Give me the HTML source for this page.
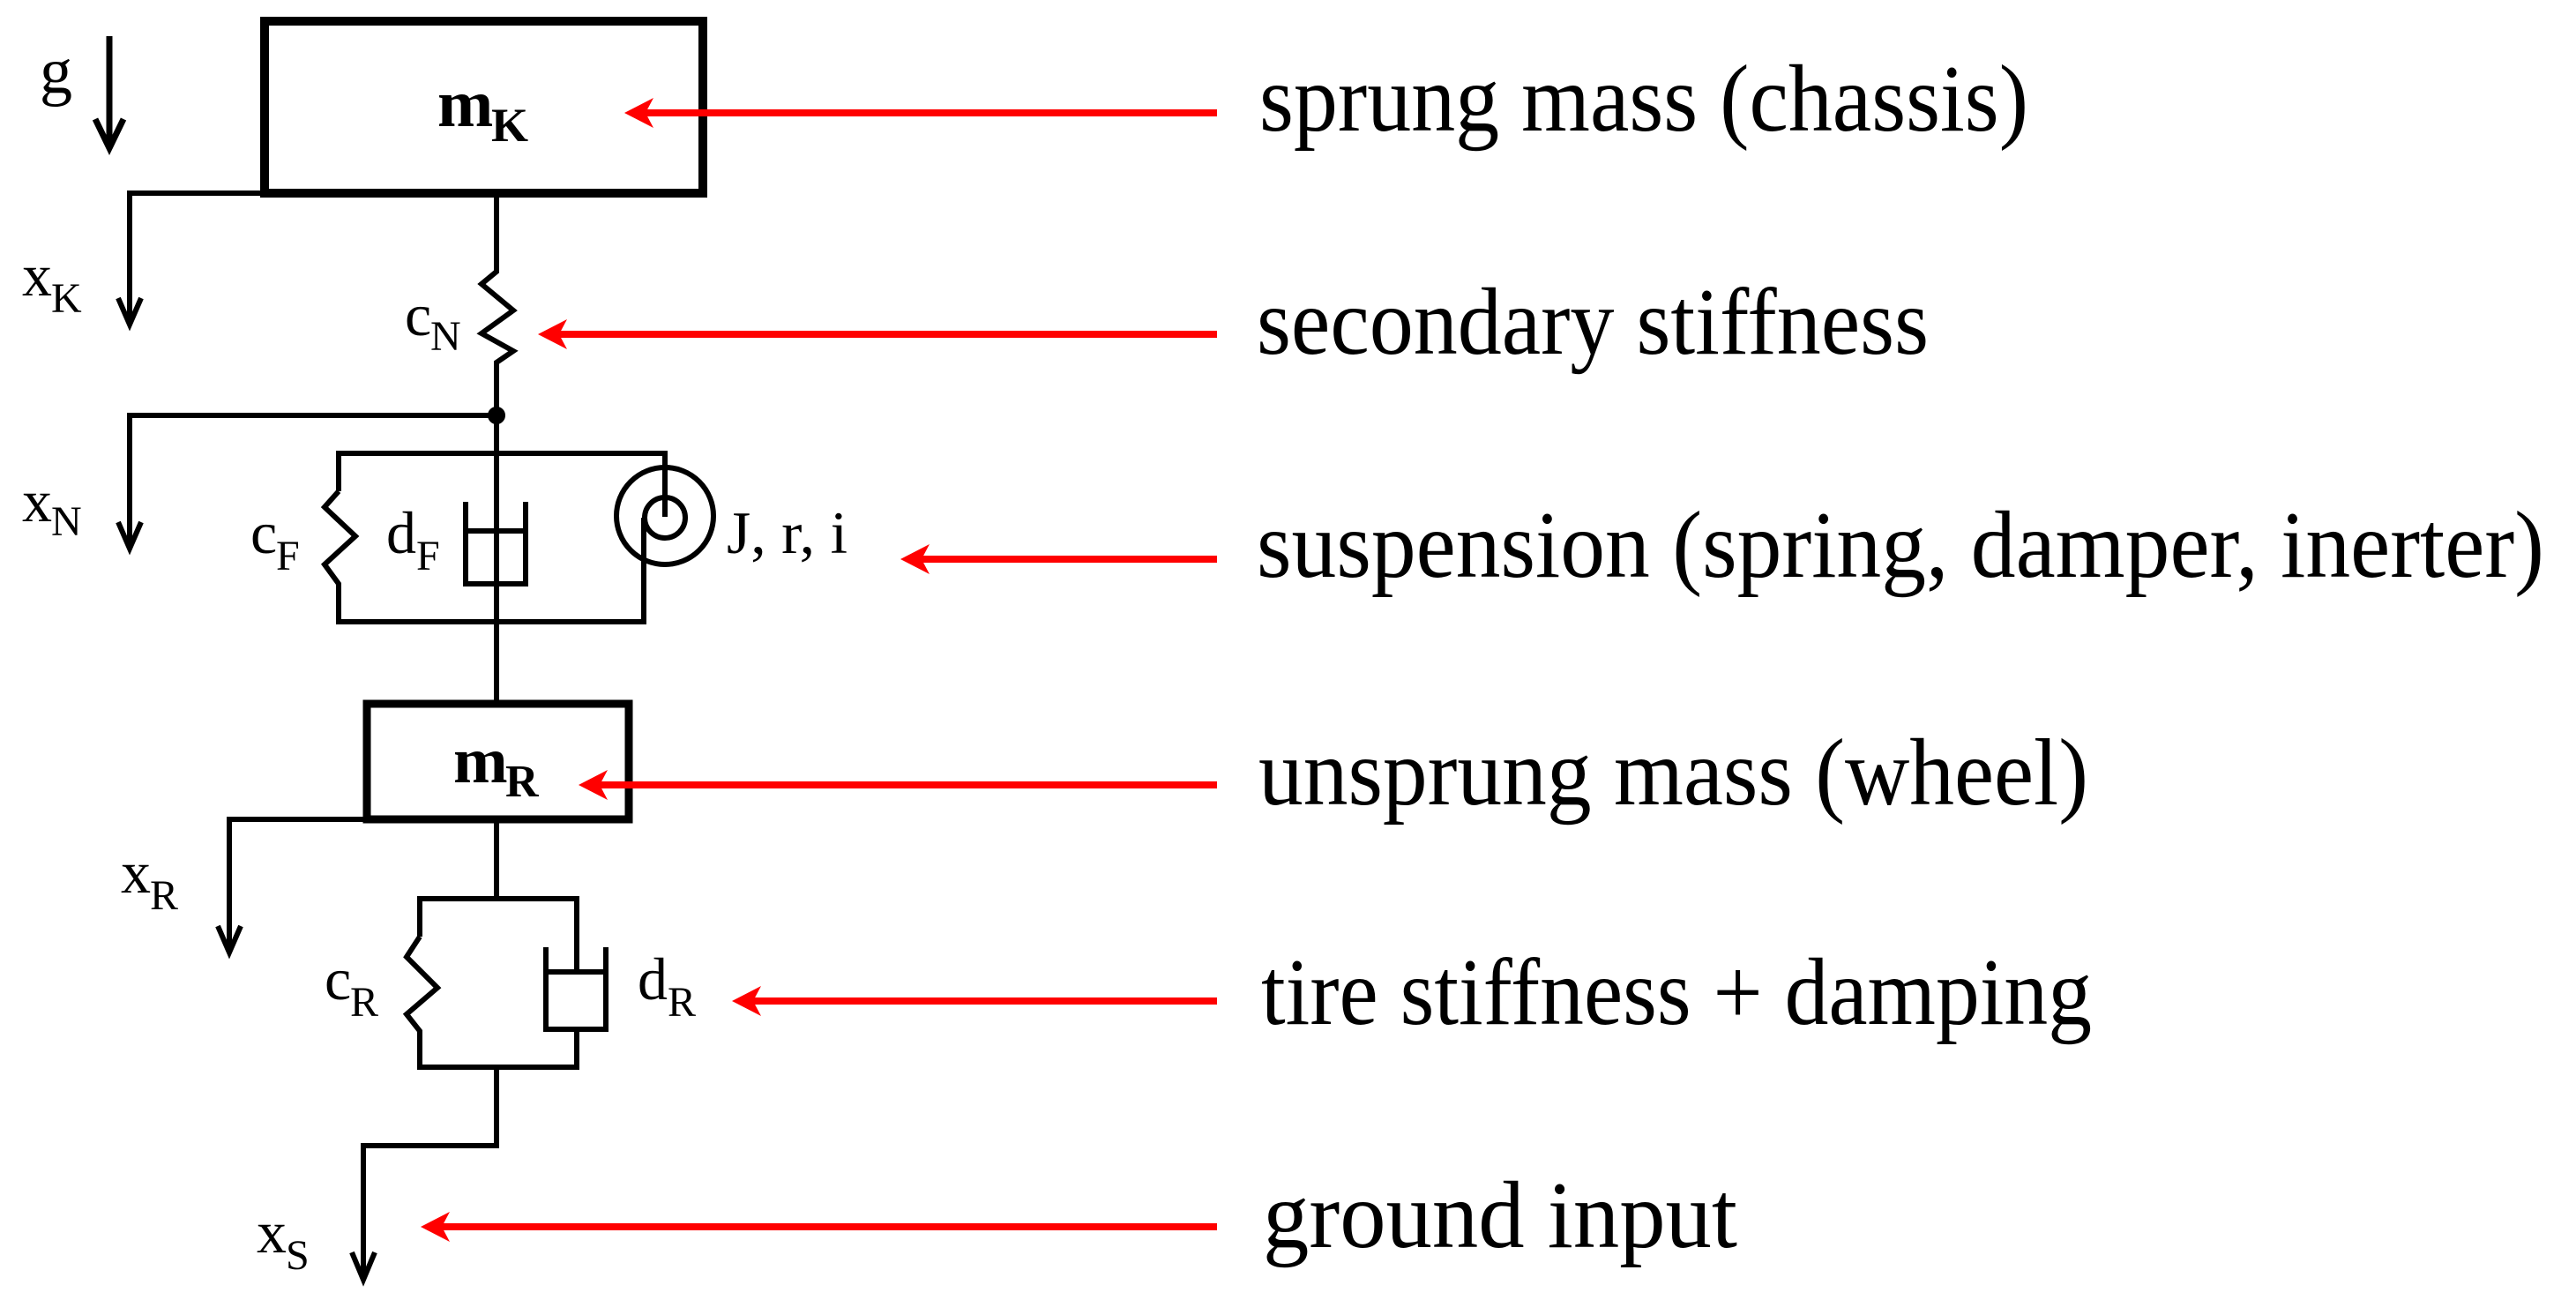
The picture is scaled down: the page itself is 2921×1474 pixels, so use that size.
<!DOCTYPE html>
<html><head><meta charset="utf-8"><style>
html,body{margin:0;padding:0;background:#fff;width:2921px;height:1474px;overflow:hidden}
svg{display:block}
text{font-family:"Liberation Serif",serif;fill:#000}
</style></head><body>
<svg width="2921" height="1474" viewBox="0 0 2921 1474" xmlns="http://www.w3.org/2000/svg">
<g fill="none" stroke="#000" stroke-width="6" stroke-linejoin="miter">
<rect x="300" y="24" width="497" height="195" stroke-width="10"/>
<line x1="124" y1="41" x2="124" y2="165" stroke-width="7"/>
<polyline points="108,135 124,168 140,135" stroke-width="7"/>
<polyline points="298,219 147,219 147,365"/>
<polyline points="134,338 147,368 160,338"/>
<polyline points="563,219 563,308 546,322 582,352 546,378 582,398 563,411 563,471 563,754"/>
<circle cx="563" cy="471" r="7" fill="#000"/>
<polyline points="563,471 147,471 147,620"/>
<polyline points="134,592 147,622 160,592"/>
<polyline points="384,557 384,514 754,514 754,586"/>
<polyline points="384,557 368,575 403,608 368,640 384,662 384,705 730,705 730,587"/>
<circle cx="754" cy="585" r="55"/>
<circle cx="754" cy="587" r="23"/>
<line x1="563" y1="514" x2="563" y2="602"/>
<polyline points="528,569 528,662 596,662 596,569"/>
<line x1="528" y1="602" x2="596" y2="602"/>
<line x1="563" y1="662" x2="563" y2="796"/>
<rect x="416" y="798" width="297" height="131" stroke-width="9"/>
<polyline points="416,929 260,929 260,1077"/>
<polyline points="247,1050 260,1080 273,1050"/>
<polyline points="563,929 563,1019"/>
<polyline points="476,1062 476,1019 654,1019 654,1102"/>
<polyline points="476,1062 461,1085 496,1120 461,1150 476,1169 476,1210 654,1210 654,1167"/>
<polyline points="619,1074 619,1167 687,1167 687,1074"/>
<line x1="619" y1="1102" x2="687" y2="1102"/>
<polyline points="563,1210 563,1299 412,1299 412,1449"/>
<polyline points="399,1420 412,1451 425,1420"/>
</g>
<g stroke="#ff0000" stroke-width="8" fill="#ff0000">
<line x1="1380" y1="128" x2="718" y2="128"/>
<line x1="1380" y1="379" x2="620" y2="379"/>
<line x1="1380" y1="634" x2="1031" y2="634"/>
<line x1="1380" y1="890" x2="666" y2="890"/>
<line x1="1380" y1="1135" x2="840" y2="1135"/>
<line x1="1380" y1="1391" x2="487" y2="1391"/>
</g>
<g fill="#ff0000">
<polygon points="708,128 741,111 732,128 741,145"/>
<polygon points="610,379 643,362 634,379 643,396"/>
<polygon points="1021,634 1054,617 1045,634 1054,651"/>
<polygon points="656,890 689,873 680,890 689,907"/>
<polygon points="830,1135 863,1118 854,1135 863,1152"/>
<polygon points="477,1391 510,1374 501,1391 510,1408"/>
</g>
<text x="45" y="105" font-size="74">g</text>
<text x="496" y="143" font-size="76" font-weight="bold">m</text><text x="557" y="160" font-size="54" font-weight="bold">K</text>
<text x="25" y="335" font-size="68">x</text><text x="58" y="354" font-size="48">K</text>
<text x="459" y="380" font-size="68">c</text><text x="488" y="397" font-size="48">N</text>
<text x="25" y="591" font-size="68">x</text><text x="58" y="607" font-size="48">N</text>
<text x="284" y="627" font-size="68">c</text><text x="313" y="646" font-size="48">F</text>
<text x="438" y="627" font-size="68">d</text><text x="472" y="646" font-size="48">F</text>
<text x="824" y="627" font-size="68" textLength="137" lengthAdjust="spacingAndGlyphs">J, r, i</text>
<text x="514" y="887" font-size="74" font-weight="bold">m</text><text x="573" y="903" font-size="52" font-weight="bold">R</text>
<text x="137" y="1012" font-size="68">x</text><text x="170" y="1031" font-size="48">R</text>
<text x="368" y="1133" font-size="68">c</text><text x="397" y="1152" font-size="48">R</text>
<text x="723" y="1133" font-size="68">d</text><text x="757" y="1152" font-size="48">R</text>
<text x="291" y="1420" font-size="68">x</text><text x="324" y="1439" font-size="48">S</text>
<text x="1428" y="148" font-size="108" textLength="872" lengthAdjust="spacingAndGlyphs">sprung mass (chassis)</text>
<text x="1425" y="401" font-size="108" textLength="762" lengthAdjust="spacingAndGlyphs">secondary stiffness</text>
<text x="1425" y="654" font-size="108" textLength="1460" lengthAdjust="spacingAndGlyphs">suspension (spring, damper, inerter)</text>
<text x="1427" y="912" font-size="108" textLength="941" lengthAdjust="spacingAndGlyphs">unsprung mass (wheel)</text>
<text x="1430" y="1161" font-size="108" textLength="942" lengthAdjust="spacingAndGlyphs">tire stiffness + damping</text>
<text x="1432" y="1414" font-size="108" textLength="538" lengthAdjust="spacingAndGlyphs">ground input</text>
</svg>
</body></html>
